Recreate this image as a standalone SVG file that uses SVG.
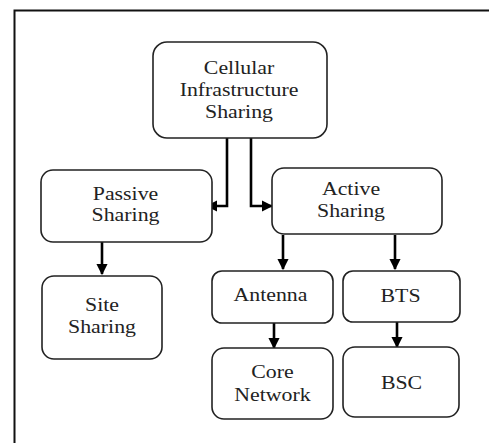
<svg xmlns="http://www.w3.org/2000/svg" width="489" height="443" viewBox="0 0 489 443">
<style>
.box{fill:#fff;stroke:#222;stroke-width:1.6}
.t{font-family:'Liberation Serif','Times New Roman',serif;font-size:19.5px;fill:#222;text-anchor:middle}
.c{fill:none;stroke:#000;stroke-width:2.6}
</style>
<defs>
<marker id="ah" viewBox="0 0 10 10" refX="9" refY="5" markerWidth="4.4" markerHeight="4.4" orient="auto" markerUnits="strokeWidth">
<path d="M0,0 L10,5 L0,10 z" fill="#000"/>
</marker>
</defs>
<rect width="489" height="443" fill="#fff"/>
<path d="M14.5,443 V10.5 H489" fill="none" stroke="#111" stroke-width="2"/>
<g id="connectors">
<path class="c" d="M227,138 V206 H207" marker-end="url(#ah)"/>
<path class="c" d="M251,138 V206 H272" marker-end="url(#ah)"/>
<path class="c" d="M102,242 V274" marker-end="url(#ah)"/>
<path class="c" d="M283,235 V269" marker-end="url(#ah)"/>
<path class="c" d="M395,235 V269" marker-end="url(#ah)"/>
<path class="c" d="M274,318 V348" marker-end="url(#ah)"/>
<path class="c" d="M397,318 V347" marker-end="url(#ah)"/>
</g>
<g id="cellular">
<rect class="box" x="153" y="42" width="174" height="96" rx="14"/>
<g transform="translate(239,0) scale(1.12,1)">
<text class="t" x="0" y="74">Cellular</text>
<text class="t" x="0" y="96.5">Infrastructure</text>
<text class="t" x="0" y="118">Sharing</text>
</g>
</g>
<g id="passive">
<rect class="box" x="41" y="170" width="171" height="72" rx="12"/>
<g transform="translate(125.5,0) scale(1.12,1)">
<text class="t" x="0" y="200">Passive</text>
<text class="t" x="0" y="221.5">Sharing</text>
</g>
</g>
<g id="active">
<rect class="box" x="272" y="168" width="170" height="66" rx="12"/>
<g transform="translate(351,0) scale(1.12,1)">
<text class="t" x="0" y="195">Active</text>
<text class="t" x="0" y="217">Sharing</text>
</g>
</g>
<g id="site">
<rect class="box" x="42" y="276" width="120" height="83" rx="12"/>
<g transform="translate(102,0) scale(1.12,1)">
<text class="t" x="0" y="311.5">Site</text>
<text class="t" x="0" y="333">Sharing</text>
</g>
</g>
<g id="antenna">
<rect class="box" x="212" y="271" width="121" height="52" rx="10"/>
<g transform="translate(270.5,0) scale(1.12,1)">
<text class="t" x="0" y="301.5">Antenna</text>
</g>
</g>
<g id="bts">
<rect class="box" x="343" y="271" width="117" height="51" rx="10"/>
<g transform="translate(400.5,0) scale(1.12,1)">
<text class="t" x="0" y="302.5">BTS</text>
</g>
</g>
<g id="core">
<rect class="box" x="212" y="348" width="121" height="71" rx="12"/>
<g transform="translate(272.5,0) scale(1.12,1)">
<text class="t" x="0" y="378">Core</text>
<text class="t" x="0" y="401.5">Network</text>
</g>
</g>
<g id="bsc">
<rect class="box" x="343" y="347" width="116" height="70" rx="12"/>
<g transform="translate(401.5,0) scale(1.12,1)">
<text class="t" x="0" y="389">BSC</text>
</g>
</g>
</svg>
